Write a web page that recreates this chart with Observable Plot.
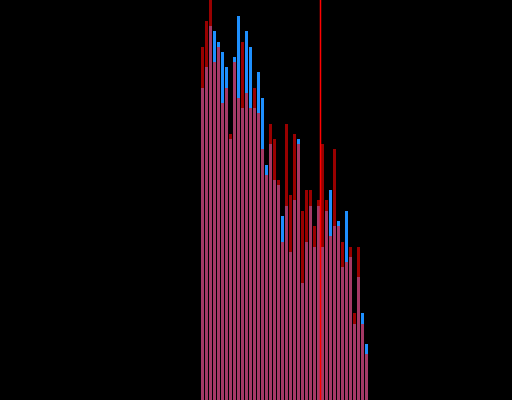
<!DOCTYPE html>
<html>
<head>
<meta charset="utf-8">
<script src="https://cdn.jsdelivr.net/npm/d3@7"></script>
<script src="https://cdn.jsdelivr.net/npm/@observablehq/plot@0.6"></script>
<style>
  html, body { margin: 0; padding: 0; background: #000; }
  #chart svg { display: block; }
</style>
</head>
<body>
<div id="chart"></div>
<script>
// bin start values (each bin is 1 unit wide)
const bins = [50,51,52,53,54,55,56,57,58,59,60,61,62,63,64,65,66,67,68,69,70,
              71,72,73,74,75,76,77,78,79,80,81,82,83,84,85,86,87,88,89,90,91];
// series A (blue) counts per bin
const seriesA = [78,83.25,93.5,92.25,89.5,87,83.25,65.25,85.75,96,73,92.25,88.25,73,82,75.5,
                 58.75,64,55,53.75,46,48.5,37,50,65.25,29.25,39.5,48.5,38.25,48.5,38.25,47.25,
                 52.5,43.5,44.75,33.25,47.25,35.75,19,30.75,21.75,14];
// series B (red) counts per bin
const seriesB = [88.25,94.75,100,84.5,88.25,74.25,78,66.5,84.5,75.5,89.5,76.75,73,78,71.75,62.75,
                 56.25,69,65.25,55,39.5,69,51.25,66.5,64,47.25,52.5,52.5,43.5,50,64,50,
                 41,62.75,43.5,39.5,34.5,38.25,21.75,38.25,19,11.5];
// reference line value
const marker = 80;

const dataA = bins.map((b, i) => ({x1: b, x2: b + 1, y: seriesA[i]}));
const dataB = bins.map((b, i) => ({x1: b, x2: b + 1, y: seriesB[i]}));

const chart = Plot.plot({
  width: 512,
  height: 400,
  margin: 0,
  style: {background: "#000"},
  x: {domain: [0, 128], axis: null},
  y: {domain: [0, 100], axis: null},
  marks: [
    Plot.rectY(dataA, {x1: "x1", x2: "x2", y: "y", fill: "#1e90ff", insetLeft: 1}),
    Plot.rectY(dataB, {x1: "x1", x2: "x2", y: "y", fill: "red", fillOpacity: 0.6, insetLeft: 1}),
    Plot.ruleX([marker], {stroke: "red", strokeWidth: 1.5})
  ]
});
document.getElementById("chart").appendChild(chart);
</script>
</body>
</html>
